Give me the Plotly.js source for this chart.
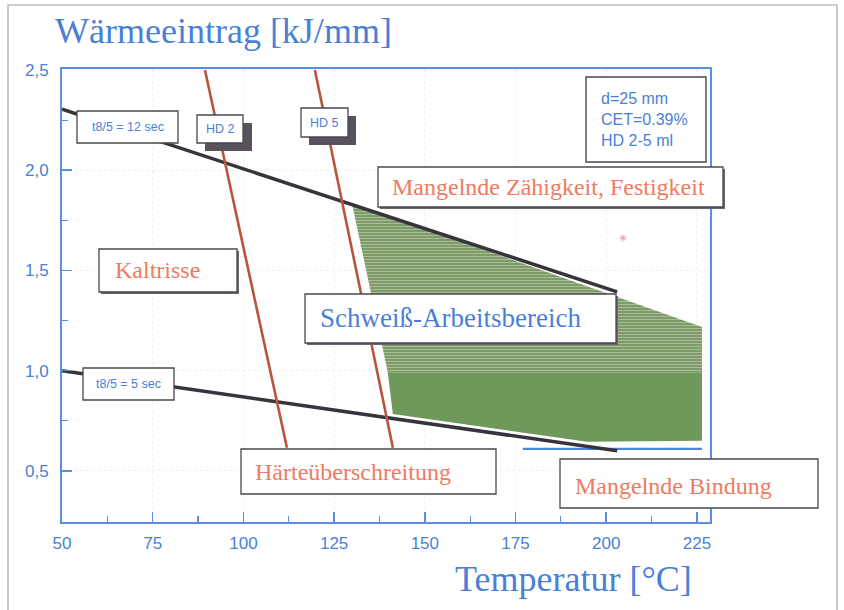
<!DOCTYPE html>
<html>
<head>
<meta charset="utf-8">
<script src="https://cdn.plot.ly/plotly-3.0.1.min.js"></script>
<style>html,body{margin:0;padding:0;background:#fff;}#chart{width:844px;height:610px;}</style>
</head>
<body>
<div id="chart"></div>
<script>
// ---- data ----
const temp12 = [50, 203];
const heat12 = [2.305, 1.393];
const temp5 = [50, 203];
const heat5 = [1.0, 0.60];
const tempHD2 = [89.4, 112.0];
const heatHD2 = [2.5, 0.615];
const tempHD5 = [119.7, 141.2];
const heatHD5 = [2.5, 0.615];
const zoneUpperT = [129.9, 226.4, 226.4, 139.8];
const zoneUpperH = [1.837, 1.218, 0.99, 0.99];
const zoneLowerT = [139.8, 226.4, 226.4, 194.7, 141.2];
const zoneLowerH = [0.99, 0.99, 0.650, 0.645, 0.784];
const bindT = [177, 226.4];
const bindH = [0.61, 0.61];
const starT = [204.6];
const starH = [1.662];
const xTickVals = [50, 75, 100, 125, 150, 175, 200, 225];
const xTickText = ['50', '75', '100', '125', '150', '175', '200', '225'];
const yTickVals = [0.5, 1.0, 1.5, 2.0, 2.5];
const yTickText = ['0,5', '1,0', '1,5', '2,0', '2,5'];

// ---- styling ----
const BLUE = '#4a7fd6';
const SALMON = '#ef7a5f';
const BORDER = '#4a4650';
const SHADOW = '#57525c';
const SERIF = 'Liberation Serif, Times New Roman, serif';
const SANS = 'Liberation Sans, Arial, sans-serif';

// pixel -> paper helpers (plot area: x 62..710, y 69..522)
const PX = p => (p - 62) / 648;
const PY = p => (522 - p) / 453;

const traces = [
  {x: zoneUpperT, y: zoneUpperH, type: 'scatter', mode: 'lines', fill: 'toself',
   line: {width: 0, color: 'rgba(0,0,0,0)'}, fillcolor: '#7f9d68',
   fillpattern: {shape: '-', fgcolor: '#b4bda4', bgcolor: '#7c9c66', size: 3, solidity: 0.3},
   hoverinfo: 'skip'},
  {x: zoneLowerT, y: zoneLowerH, type: 'scatter', mode: 'lines', fill: 'toself',
   line: {width: 0, color: 'rgba(0,0,0,0)'}, fillcolor: '#6f995b', hoverinfo: 'skip'},
  {x: bindT, y: bindH, type: 'scatter', mode: 'lines', line: {color: '#4f86e0', width: 2.2}},
  {x: temp12, y: heat12, type: 'scatter', mode: 'lines', line: {color: '#36343c', width: 3.5}},
  {x: temp5, y: heat5, type: 'scatter', mode: 'lines', line: {color: '#36343c', width: 3.5}},
  {x: tempHD2, y: heatHD2, type: 'scatter', mode: 'lines', line: {color: '#b8553e', width: 2.6}},
  {x: tempHD5, y: heatHD5, type: 'scatter', mode: 'lines', line: {color: '#b8553e', width: 2.6}},
  {x: starT, y: starH, type: 'scatter', mode: 'markers',
   marker: {symbol: 'asterisk-open', size: 6, color: '#e7a3b3', line: {width: 1, color: '#e7a3b3'}}}
];

function rect(x0, y0, x1, y1, fill, lineColor, lw) {
  return {type: 'rect', xref: 'paper', yref: 'paper', layer: 'above',
    x0: PX(x0), x1: PX(x1), y0: PY(y1), y1: PY(y0),
    fillcolor: fill, line: {color: lineColor, width: lw}};
}

const shapes = [
  // outer frame of the picture
  {type: 'rect', xref: 'paper', yref: 'paper', layer: 'below',
   x0: PX(8), x1: PX(837), y0: PY(640), y1: PY(5), fillcolor: 'rgba(0,0,0,0)',
   line: {color: '#a7a2aa', width: 1.2}},
  // t8/5 boxes
  rect(77, 111, 178, 143, '#ffffff', BORDER, 1.3),
  rect(83, 368, 174, 400, '#ffffff', BORDER, 1.3),
  // HD boxes with shadows
  rect(205, 123, 252, 151, SHADOW, SHADOW, 0),
  rect(197, 115, 243, 143, '#ffffff', BORDER, 1.3),
  rect(309, 116, 356, 145, SHADOW, SHADOW, 0),
  rect(301, 108, 348, 137, '#ffffff', BORDER, 1.3),
  // info box
  rect(586, 77, 706, 162, '#ffffff', BORDER, 1.4),
  // label boxes (with thin shadows)
  rect(380, 169, 725, 209, '#6a6670', '#6a6670', 0),
  rect(378, 167, 723, 207, '#ffffff', BORDER, 1.3),
  rect(101, 251, 239, 294, '#6a6670', '#6a6670', 0),
  rect(99, 249, 237, 292, '#ffffff', BORDER, 1.3),
  rect(307, 296, 618, 345, '#6a6670', '#6a6670', 0),
  rect(305, 294, 616, 343, '#ffffff', BORDER, 1.3),
  rect(241, 449, 496, 494, '#ffffff', BORDER, 1.3),
  rect(560, 459, 818, 508, '#ffffff', BORDER, 1.3)
];

function label(text, px, py, size, color, family, xanchor) {
  return {text: text, xref: 'paper', yref: 'paper', x: PX(px), y: PY(py),
    xanchor: xanchor || 'left', yanchor: 'middle', showarrow: false,
    font: {family: family, size: size, color: color}};
}

const annotations = [
  label('t8/5 = 12 sec', 127.5, 127, 12.5, BLUE, SANS, 'center'),
  label('t8/5 = 5 sec', 128.5, 384, 12.5, BLUE, SANS, 'center'),
  label('HD 2', 220, 129, 12.5, BLUE, SANS, 'center'),
  label('HD 5', 324.5, 122.5, 12.5, BLUE, SANS, 'center'),
  Object.assign(label('d=25 mm<br>CET=0.39%<br>HD 2-5 ml', 599, 119, 16, BLUE, SANS, 'left'), {align: 'left'}),
  label('Mangelnde Zähigkeit, Festigkeit', 390, 187, 24, SALMON, SERIF),
  label('Kaltrisse', 113, 270, 24, SALMON, SERIF),
  label('Schweiß-Arbeitsbereich', 318, 318, 27, BLUE, SERIF),
  label('Härteüberschreitung', 253, 472, 24, SALMON, SERIF),
  label('Mangelnde Bindung', 573, 486, 24, SALMON, SERIF),
  label('Temperatur [°C]', 573, 579, 36, BLUE, SERIF, 'center')
];

const axisCommon = {
  showline: true, linecolor: '#5a8ee0', linewidth: 2, mirror: true,
  ticks: 'inside', tickcolor: '#5a8ee0', tickwidth: 1.5, ticklen: 10,
  showgrid: true, gridcolor: '#eeeef3', griddash: 'dot', gridwidth: 1,
  zeroline: false, tickfont: {family: SANS, size: 17, color: BLUE},
  fixedrange: true
};

const layout = {
  width: 844, height: 610,
  margin: {l: 62, r: 134, t: 69, b: 88},
  paper_bgcolor: '#ffffff', plot_bgcolor: '#ffffff',
  showlegend: false,
  title: {text: 'Wärmeeintrag [kJ/mm]', xref: 'container', yref: 'container',
    x: 55 / 844, xanchor: 'left', y: 1 - 30 / 610, yanchor: 'middle',
    font: {family: SERIF, size: 36, color: BLUE}},
  xaxis: Object.assign({}, axisCommon, {
    range: [50, 228.6], tickmode: 'array', tickvals: xTickVals, ticktext: xTickText,
    ticklabelstandoff: 5,
    minor: {ticks: 'inside', ticklen: 6, tickcolor: '#5a8ee0', tickwidth: 1.2, dtick: 12.5, tick0: 50, showgrid: false}
  }),
  yaxis: Object.assign({}, axisCommon, {
    range: [0.245, 2.505], tickmode: 'array', tickvals: yTickVals, ticktext: yTickText,
    ticklabelstandoff: 8,
    minor: {ticks: 'inside', ticklen: 6, tickcolor: '#5a8ee0', tickwidth: 1.2, dtick: 0.25, tick0: 0.25, showgrid: false}
  }),
  shapes: shapes,
  annotations: annotations
};

Plotly.newPlot('chart', traces, layout, {displayModeBar: false, staticPlot: true});
</script>
</body>
</html>
